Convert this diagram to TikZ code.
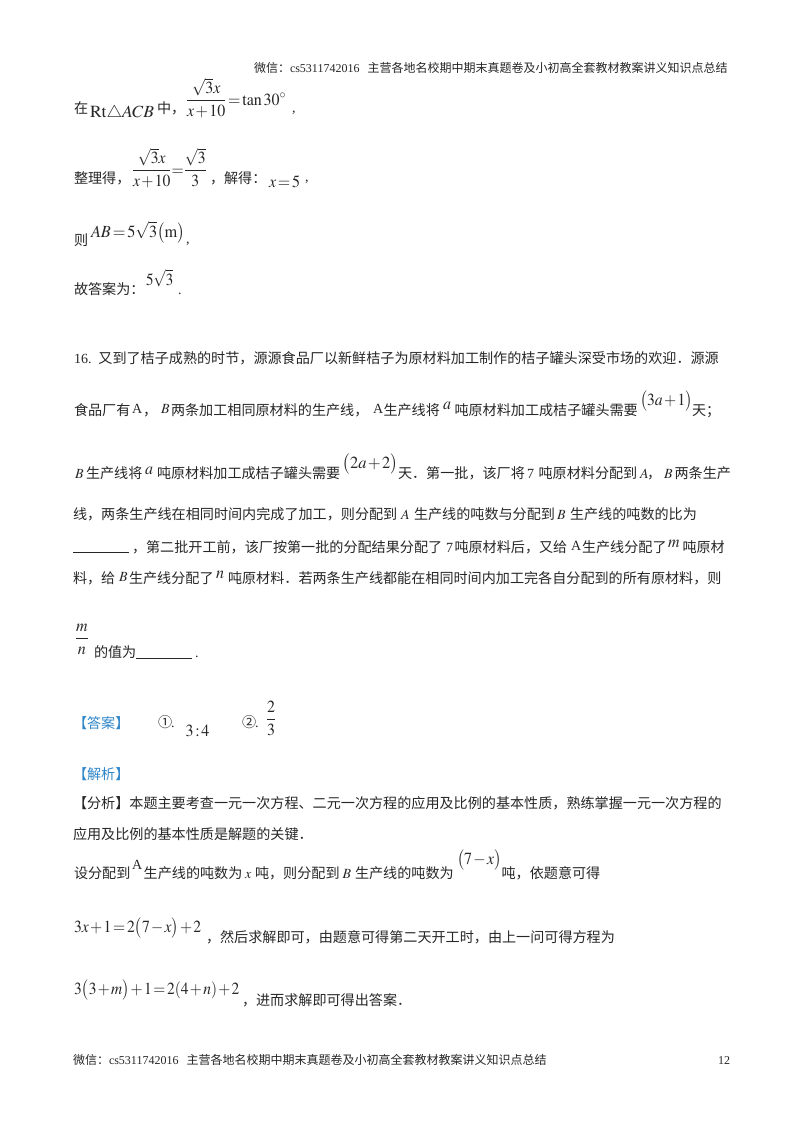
\documentclass[tikz,border=0pt]{standalone}
\usepackage{amsmath}
\usepackage{mathptmx}
\usepackage[no-math]{fontspec}
\setmainfont{Liberation Serif}
\newfontfamily\cjk{Noto Sans CJK SC}
\definecolor{ansblue}{HTML}{2E86C8}
\medmuskip=1.5mu plus 1mu minus 1mu
\thickmuskip=2mu plus 1mu minus 1mu
\tikzset{
  zh/.style={anchor=base west,inner sep=0pt,outer sep=0pt,text=black!85,font=\cjk\fontsize{14.1}{16}\selectfont},
  lat/.style={anchor=base west,inner sep=0pt,outer sep=0pt,text=black!85,font=\rmfamily\fontsize{14}{16}\selectfont},
  mth/.style={anchor=base west,inner sep=0pt,outer sep=0pt,text=black!85,font=\rmfamily\fontsize{17}{20}\selectfont,xscale=#1,transform shape},
  mth/.default=.94,
  small/.style={anchor=base west,inner sep=0pt,outer sep=0pt,text=black!85,font=\cjk\fontsize{12}{14}\selectfont},
}
\newcommand{\ltn}[1]{{\rmfamily #1}}
\begin{document}
\begin{tikzpicture}[x=1pt,y=-1pt,line cap=butt]
\useasboundingbox (0,0) rectangle (800,1132);
\node[small] (hdr) at (254,72) {微信：\ltn{cs5311742016}\hspace{8pt}主营各地名校期中期末真题卷及小初高全套教材教案讲义知识点总结};
% worked lines above the problem
\node[zh] (rta) at (74,113) {在};
\node[mth=1.03] (rtb) at (90,117) {$\mathrm{Rt}\triangle ACB$};
\node[zh] (rtc) at (157,113) {中，};
\node[mth] (rtd) at (186,105) {$\dfrac{\sqrt{3}x}{x+10}=\tan 30^\circ$};
\node[lat] (rte) at (292,112) {,};
\node[zh] (zla) at (74,183) {整理得，};
\node[mth=.92] (zlb) at (132,175) {$\dfrac{\sqrt{3}x}{x+10}\!=\!\dfrac{\sqrt{3}}{3}$};
\node[zh] (zlc) at (210,183) {，解得：};
\node[mth] (zld) at (269,187) {$x=5$};
\node[lat] (zle) at (305,181) {,};
\node[zh] (zea) at (74,245) {则};
\node[mth=.96] (zeb) at (91,237) {$AB=5\sqrt{3}\bigl(\mathrm{m}\bigr)$};
\node[lat] (zec) at (186,243) {,};
\node[zh] (gua) at (74,294) {故答案为：};
\node[mth=.88] (gub) at (146,285) {$5\sqrt{3}$};
\node[lat] (guc) at (178,294) {.};
% problem 16
\node[lat] (pa) at (74,363) {16.};
\node[zh] (pb) at (98.4,363) {又到了桔子成熟的时节，源源食品厂以新鲜桔子为原材料加工制作的桔子罐头深受市场的欢迎．源源};
\node[zh] (qa) at (74,415) {食品厂有};
\node[lat] (qb) at (132,413) {A};
\node[zh] (qc) at (143,415) {，};
\node[lat] (qd) at (161,413) {$B$};
\node[zh] (qe) at (171,415) {两条加工相同原材料的生产线，};
\node[lat] (qf) at (373,413) {A};
\node[zh] (qg) at (383.5,415) {生产线将};
\node[mth] (qh) at (443,409) {$a$};
\node[zh] (qi) at (454.5,415) {吨原材料加工成桔子罐头需要};
\node[mth=.92] (qj) at (640,405) {$\bigl(3a+1\bigr)$};
\node[zh] (qk) at (692,415) {天；};
\node[lat] (ra) at (75,478) {$B$};
\node[zh] (rb) at (86,478) {生产线将};
\node[mth] (rc) at (145,474) {$a$};
\node[zh] (rd) at (157,478) {吨原材料加工成桔子罐头需要};
\node[mth=.97] (re) at (342.5,468) {$\bigl(2a+2\bigr)$};
\node[zh] (rf) at (398,478) {天．第一批，该厂将};
\node[lat] (rg) at (527,478) {7};
\node[zh] (rh) at (538.6,478) {吨原材料分配到};
\node[lat] (ri) at (640,478) {$A$};
\node[zh] (rj) at (647,478) {，};
\node[lat] (rk) at (664,478) {$B$};
\node[zh] (rl) at (674.6,478) {两条生产};
\node[zh] (sa) at (73,519) {线，两条生产线在相同时间内完成了加工，则分配到};
\node[lat] (sb) at (401,519) {$A$};
\node[zh] (sc) at (414,519) {生产线的吨数与分配到};
\node[lat] (sd) at (557,519) {$B$};
\node[zh] (se) at (570,519) {生产线的吨数的比为};
\draw[line width=.7pt,black!85] (73,552.5)--(129,552.5);
\node[zh] (ta) at (132,552) {，第二批开工前，该厂按第一批的分配结果分配了};
\node[lat] (tb) at (446,552) {7};
\node[zh] (tc) at (454.5,552) {吨原材料后，又给};
\node[lat] (td) at (571,550) {A};
\node[zh] (te) at (582,552) {生产线分配了};
\node[mth] (tf) at (668,547) {$m$};
\node[zh] (tg) at (682.5,552) {吨原材};
\node[zh] (ua) at (73,583) {料，给};
\node[lat] (ub) at (119,581) {$B$};
\node[zh] (uc) at (129,583) {生产线分配了};
\node[mth] (ud) at (216,578) {$n$};
\node[zh] (ue) at (228,583) {吨原材料．若两条生产线都能在相同时间内加工完各自分配到的所有原材料，则};
\node[mth] (va) at (75,643) {$\dfrac{m}{n}$};
\node[zh] (vb) at (94,657) {的值为};
\draw[line width=.7pt,black!85] (136,658.5)--(192,658.5);
\node[lat] (vc) at (195,657) {.};
% answer
\node[zh,text=ansblue] (ansa) at (73,728) {【答案】};
\node[zh] (ansb) at (158,727) {①};
\node[lat] (ansc) at (171,727) {.};
\node[mth] (ansd) at (185.5,736) {$3:4$};
\node[zh] (anse) at (242,727) {②};
\node[lat] (ansf) at (255,727) {.};
\node[mth] (ansg) at (266,724) {$\dfrac{2}{3}$};
\node[zh,text=ansblue] (jxa) at (73,779) {【解析】};
\node[zh] (fxa) at (73,808) {【分析】本题主要考查一元一次方程、二元一次方程的应用及比例的基本性质，熟练掌握一元一次方程的};
\node[zh] (fxb) at (73,839) {应用及比例的基本性质是解题的关键．};
\node[zh] (sha) at (74,878) {设分配到};
\node[lat] (shb) at (132,869) {A};
\node[zh] (shc) at (143.7,878) {生产线的吨数为};
\node[lat] (shd) at (245,878) {$x$};
\node[zh] (she) at (255,878) {吨，则分配到};
\node[lat] (shf) at (342.5,878) {$B$};
\node[zh] (shg) at (355,878) {生产线的吨数为};
\node[mth=.93] (shh) at (457,864) {$\bigl(7-x\bigr)$};
\node[zh] (shi) at (501.6,878) {吨，依题意可得};
\node[mth=.92] (eqa) at (74,932) {$3x+1=2\bigl(7-x\bigr)+2$};
\node[zh] (eqb) at (206,942) {，然后求解即可，由题意可得第二天开工时，由上一问可得方程为};
\node[mth=.91] (eqc) at (74,994) {$3\bigl(3+m\bigr)+1=2(4+n)+2$};
\node[zh] (eqd) at (242,1005) {，进而求解即可得出答案．};
% footer
\node[small] (ftr) at (73,1064) {微信：\ltn{cs5311742016}\hspace{8pt}主营各地名校期中期末真题卷及小初高全套教材教案讲义知识点总结};
\node[small,font=\rmfamily\fontsize{12}{14}\selectfont] (pgn) at (718,1064) {12};
\end{tikzpicture}
\end{document}
